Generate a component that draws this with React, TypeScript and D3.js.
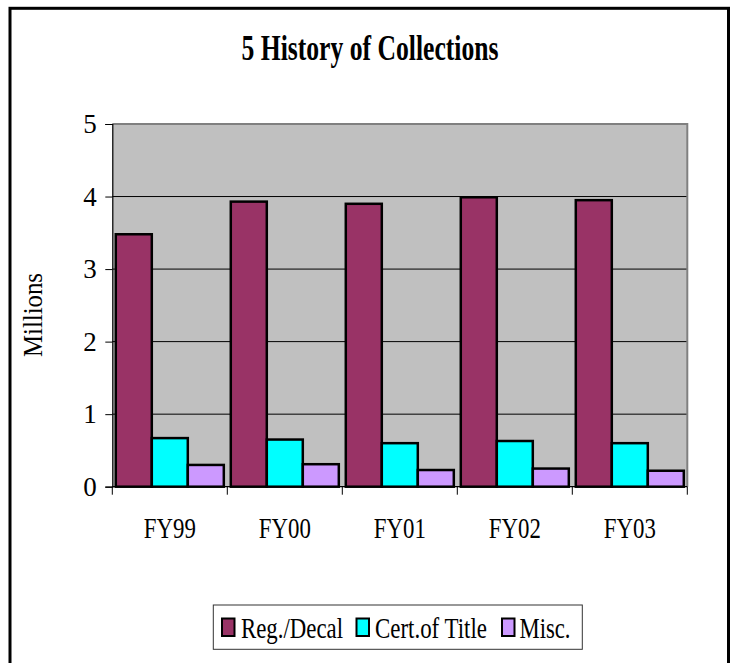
import React, { useEffect, useRef } from "react";
import * as d3 from "d3";

const categories = ["FY99", "FY00", "FY01", "FY02", "FY03"];
const seriesNames = ["Reg./Decal", "Cert.of Title", "Misc."];
const regDecal = [3.48, 3.93, 3.9, 3.99, 3.95];
const certOfTitle = [0.67, 0.65, 0.6, 0.63, 0.6];
const misc = [0.3, 0.31, 0.23, 0.25, 0.22];
const yTicks = [0, 1, 2, 3, 4, 5];
const colors = ["#993366", "#00FFFF", "#CC99FF"];

const FONT = "'Liberation Serif', 'Times New Roman', serif";

const App = () => {
  const width = 731;
  const height = 663;
  const plot = { left: 112.3, right: 687.3, top: 124, bottom: 486.7 };

  const svgRef = useRef<SVGSVGElement>(null);

  useEffect(() => {
    const svg = d3.select(svgRef.current);
    svg.selectAll("*").remove();

    const series = [regDecal, certOfTitle, misc];

    const x = d3
      .scaleBand()
      .domain(categories)
      .range([plot.left, plot.right])
      .padding(0);

    const xInner = d3
      .scaleBand()
      .domain(seriesNames)
      .range([0, x.bandwidth()])
      .paddingInner(0)
      .paddingOuter(0.097);

    const y = d3.scaleLinear().domain([0, 5]).range([plot.bottom, plot.top]);

    // outer frame
    svg
      .append("rect")
      .attr("x", 10)
      .attr("y", 8.3)
      .attr("width", 718.5)
      .attr("height", 700)
      .attr("fill", "white")
      .attr("stroke", "black")
      .attr("stroke-width", 3);

    // title
    svg
      .append("text")
      .attr("x", 370)
      .attr("y", 60)
      .attr("text-anchor", "middle")
      .attr("font-family", FONT)
      .attr("font-weight", "bold")
      .attr("font-size", 35)
      .attr("textLength", 257)
      .attr("lengthAdjust", "spacingAndGlyphs")
      .text("5 History of Collections");

    // plot background
    svg
      .append("rect")
      .attr("x", plot.left)
      .attr("y", plot.top)
      .attr("width", plot.right - plot.left)
      .attr("height", plot.bottom - plot.top)
      .attr("fill", "#C0C0C0");

    // gridlines
    svg
      .append("g")
      .selectAll("line")
      .data(yTicks.filter((t) => t > 0 && t < 5))
      .join("line")
      .attr("x1", plot.left)
      .attr("x2", plot.right)
      .attr("y1", (d) => y(d))
      .attr("y2", (d) => y(d))
      .attr("stroke", "black")
      .attr("stroke-width", 1);

    // gray frame top/right
    svg
      .append("path")
      .attr("d", `M${plot.left},${y(5)}H${plot.right}V${plot.bottom}`)
      .attr("fill", "none")
      .attr("stroke", "#808080")
      .attr("stroke-width", 2);

    // bars
    series.forEach((vals, i) => {
      svg
        .append("g")
        .attr("fill", colors[i])
        .attr("stroke", "black")
        .attr("stroke-width", 2.5)
        .selectAll("rect")
        .data(vals)
        .join("rect")
        .attr("x", (d, j) => (x(categories[j]) as number) + (xInner(seriesNames[i]) as number))
        .attr("y", (d) => y(d))
        .attr("width", xInner.bandwidth())
        .attr("height", (d) => y(0) - y(d));
    });

    // y axis
    const yAxis = d3
      .axisLeft(y)
      .tickValues(yTicks)
      .tickSize(7)
      .tickPadding(8.5)
      .tickFormat(d3.format("d"));
    const gy = svg
      .append("g")
      .attr("transform", `translate(${plot.left},0)`)
      .call(yAxis);
    gy.select(".domain").attr("stroke", "black").attr("stroke-width", 1.2);
    gy.selectAll(".tick line").attr("stroke", "black");
    gy.selectAll(".tick text")
      .attr("font-family", FONT)
      .attr("font-size", 27)
      .attr("fill", "black");

    // x axis
    const boundaries = categories.map((c) => x(c) as number).concat([plot.right]);
    svg
      .append("line")
      .attr("x1", plot.left)
      .attr("x2", plot.right)
      .attr("y1", plot.bottom)
      .attr("y2", plot.bottom)
      .attr("stroke", "black")
      .attr("stroke-width", 1.2);
    svg
      .append("g")
      .selectAll("line")
      .data(boundaries)
      .join("line")
      .attr("x1", (d) => d)
      .attr("x2", (d) => d)
      .attr("y1", plot.bottom)
      .attr("y2", plot.bottom + 8)
      .attr("stroke", "black");
    svg
      .append("g")
      .selectAll("text")
      .data(categories)
      .join("text")
      .attr("x", (d) => (x(d) as number) + x.bandwidth() / 2)
      .attr("y", 537.5)
      .attr("text-anchor", "middle")
      .attr("font-family", FONT)
      .attr("font-size", 30)
      .attr("textLength", 52)
      .attr("lengthAdjust", "spacingAndGlyphs")
      .text((d) => d);

    // y axis title
    svg
      .append("text")
      .attr("transform", `translate(42,315) rotate(-90)`)
      .attr("text-anchor", "middle")
      .attr("font-family", FONT)
      .attr("font-size", 28)
      .attr("textLength", 84)
      .attr("lengthAdjust", "spacingAndGlyphs")
      .text("Millions");

    // legend
    const legend = svg.append("g");
    legend
      .append("rect")
      .attr("x", 213.3)
      .attr("y", 605)
      .attr("width", 369)
      .attr("height", 44.3)
      .attr("fill", "white")
      .attr("stroke", "#333")
      .attr("stroke-width", 1);
    const legendItems = [
      { swatch: 222, text: 241, len: 102 },
      { swatch: 356.5, text: 375, len: 112 },
      { swatch: 502, text: 519.5, len: 51 },
    ];
    legendItems.forEach((item, i) => {
      legend
        .append("rect")
        .attr("x", item.swatch)
        .attr("y", 618.5)
        .attr("width", 12.5)
        .attr("height", 17.5)
        .attr("fill", colors[i])
        .attr("stroke", "black")
        .attr("stroke-width", 2);
      legend
        .append("text")
        .attr("x", item.text)
        .attr("y", 637.5)
        .attr("font-family", FONT)
        .attr("font-size", 29.5)
        .attr("textLength", item.len)
        .attr("lengthAdjust", "spacingAndGlyphs")
        .text(seriesNames[i]);
    });
  }, []);

  return (
    <svg
      ref={svgRef}
      width={width}
      height={height}
      style={{ position: "absolute", left: 0, top: 0 }}
    />
  );
};

export default App;
